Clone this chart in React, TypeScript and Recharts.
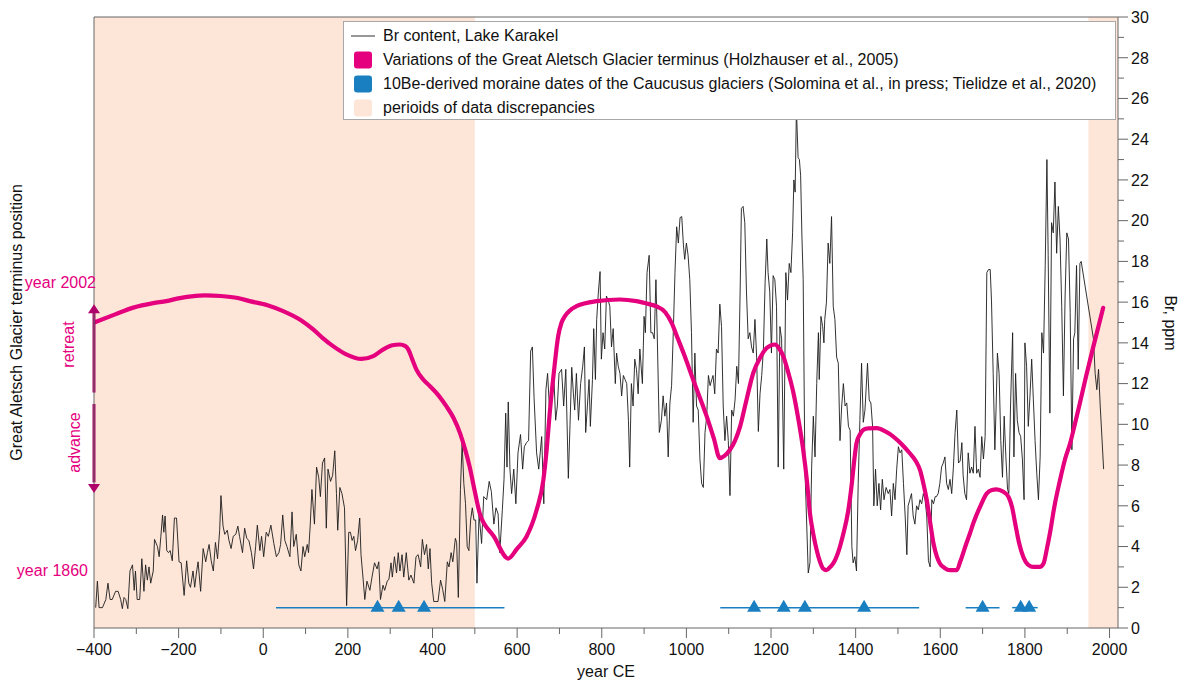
import React from 'react';
import {
  ComposedChart,
  Line,
  Scatter,
  XAxis,
  YAxis,
  ReferenceArea,
  ReferenceLine,
  ReferenceDot,
} from 'recharts';

const FONT = '"Liberation Sans", Arial, Helvetica, sans-serif';
const MAGENTA = '#e5007e';
const DARK_MAGENTA = '#b0006a';
const BLUE = '#1a7fc1';
const SHADE = '#fde5d8';
const AXIS = '#666666';

// Br content, Lake Karakel (ppm) by year CE
const brYears = [
  -396, -392, -388, -380, -372, -367, -362, -357, -349, -343,
  -337, -333, -329, -325, -320, -315, -309, -305, -302, -298,
  -292, -287, -282, -278, -274, -270, -266, -260, -257, -250,
  -246, -242, -238, -235, -232, -228, -224, -220, -215, -210,
  -205, -199, -194, -187, -181, -176, -172, -166, -162, -158,
  -154, -148, -142, -136, -132, -128, -123, -118, -113, -108,
  -103, -100, -95, -91, -85, -81, -76, -71, -65, -60,
  -56, -49, -44, -39, -34, -28, -23, -18, -14, -8,
  -4, 1, 7, 12, 18, 25, 31, 37, 41, 46,
  51, 56, 63, 68, 72, 78, 84, 89, 94, 98,
  104, 107, 111, 115, 121, 126, 131, 135, 140, 145,
  149, 153, 159, 164, 169, 173, 176, 181, 186, 192,
  197, 202, 206, 210, 214, 218, 223, 228, 231, 236,
  240, 245, 252, 257, 263, 269, 273, 277, 283, 287,
  293, 297, 302, 305, 310, 315, 319, 323, 328, 332,
  338, 344, 349, 356, 361, 366, 372, 376, 381, 386,
  390, 394, 398, 403, 408, 413, 419, 424, 429, 435,
  439, 444, 448, 454, 457, 461, 466, 470, 474, 478,
  482, 486, 490, 494, 498, 502, 505, 510, 516, 521,
  528, 534, 539, 545, 550, 555, 559, 565, 569, 573,
  576, 579, 583, 587, 592, 597, 602, 608, 613, 617,
  622, 627, 632, 636, 640, 646, 651, 658, 663, 668,
  672, 677, 681, 687, 691, 695, 699, 705, 710, 715,
  721, 725, 729, 733, 736, 740, 745, 750, 755, 759,
  762, 766, 770, 773, 778, 781, 785, 788, 792, 796,
  799, 803, 807, 811, 815, 819, 823, 827, 832, 835,
  839, 843, 847, 851, 855, 859, 863, 866, 870, 874,
  878, 882, 886, 890, 896, 900, 903, 907, 912, 916,
  920, 924, 928, 931, 936, 941, 945, 949, 953, 957,
  961, 965, 969, 973, 977, 981, 985, 989, 993, 996,
  1000, 1004, 1008, 1012, 1016, 1020, 1024, 1028, 1032, 1036,
  1040, 1044, 1048, 1052, 1056, 1060, 1063, 1067, 1071, 1075,
  1079, 1083, 1087, 1091, 1095, 1099, 1103, 1107, 1111, 1115,
  1119, 1123, 1127, 1130, 1134, 1138, 1142, 1146, 1150, 1154,
  1158, 1162, 1166, 1170, 1174, 1178, 1182, 1186, 1190, 1193,
  1197, 1201, 1205, 1209, 1213, 1217, 1221, 1225, 1230, 1235,
  1239, 1243, 1247, 1251, 1254, 1257, 1260, 1264, 1267, 1270,
  1273, 1276, 1280, 1284, 1288, 1292, 1296, 1300, 1304, 1308,
  1312, 1314, 1318, 1322, 1325, 1327, 1331, 1335, 1339, 1343,
  1347, 1351, 1355, 1359, 1363, 1367, 1371, 1375, 1379, 1383,
  1387, 1391, 1394, 1398, 1402, 1406, 1410, 1414, 1418, 1422,
  1428, 1432, 1436, 1440, 1443, 1447, 1451, 1455, 1459, 1463,
  1467, 1472, 1477, 1481, 1485, 1489, 1493, 1497, 1501, 1505,
  1509, 1513, 1517, 1521, 1524, 1528, 1532, 1536, 1540, 1544,
  1548, 1552, 1556, 1560, 1564, 1568, 1572, 1576, 1580, 1584,
  1588, 1591, 1595, 1599, 1603, 1607, 1611, 1615, 1619, 1623,
  1627, 1631, 1635, 1639, 1643, 1647, 1651, 1654, 1658, 1662,
  1666, 1670, 1674, 1678, 1682, 1686, 1690, 1694, 1698, 1702,
  1706, 1710, 1714, 1718, 1721, 1725, 1729, 1732, 1735, 1739,
  1743, 1747, 1751, 1755, 1759, 1762, 1766, 1771, 1774, 1778,
  1782, 1786, 1790, 1794, 1798, 1800, 1804, 1808, 1812, 1816,
  1820, 1824, 1828, 1832, 1836, 1840, 1844, 1848, 1852, 1855,
  1859, 1863, 1867, 1871, 1875, 1879, 1883, 1887, 1891, 1895,
  1899, 1903, 1907, 1911, 1915, 1918, 1922, 1926, 1930, 1933,
  1962, 1966, 1970, 1974, 1978, 1986,
];
const brValues = [
  1.0, 2.3, 1.0, 1.0, 1.4, 2.2, 1.4, 1.4, 1.8, 1.8,
  1.4, 0.95, 1.5, 1.4, 0.95, 2.8, 3.1, 1.85, 2.8, 1.4,
  1.4, 3.4, 1.8, 3.1, 2.35, 3.0, 2.2, 2.8, 4.35, 4.0,
  3.5, 4.5, 5.55, 4.7, 5.5, 3.8, 3.7, 3.8, 3.3, 5.4,
  5.4, 3.25, 3.2, 1.6, 3.3, 2.2, 2.0, 2.8, 2.0, 2.7,
  3.25, 1.8, 3.9, 3.25, 3.7, 4.1, 3.3, 2.8, 4.2, 3.4,
  4.8, 6.5, 5.0, 4.6, 4.8, 4.3, 3.9, 4.5, 4.6, 5.0,
  4.5, 3.7, 4.9, 4.4, 4.3, 3.7, 2.9, 4.0, 5.05, 3.8,
  4.5, 3.5, 4.7, 4.5, 5.05, 4.15, 3.5, 3.7, 4.1, 5.55,
  4.3, 4.0, 3.5, 5.7, 4.0, 4.6, 3.1, 2.8, 4.0, 3.5,
  4.1, 3.7, 5.05, 6.8, 5.1, 7.9, 7.4, 6.45, 8.1, 8.35,
  4.9, 7.8, 7.2, 7.5, 8.7, 6.6, 4.8, 6.9, 6.6, 5.9,
  1.1, 4.7, 4.7, 4.3, 4.5, 3.8, 4.3, 5.4, 3.6, 2.4,
  1.4, 2.3, 1.85, 2.5, 3.2, 2.9, 3.25, 1.4, 2.1, 1.85,
  2.3, 2.4, 3.2, 2.5, 3.5, 2.7, 3.7, 2.8, 3.6, 2.5,
  3.7, 2.35, 2.6, 2.2, 3.5, 3.6, 3.0, 4.35, 3.6, 4.1,
  2.9, 3.9, 2.2, 1.3, 1.3, 1.3, 2.35, 1.9, 1.3, 3.25,
  3.0, 3.7, 3.25, 4.4, 4.2, 1.5, 6.8, 9.1, 7.1, 6.1,
  4.0, 3.8, 5.3, 5.9, 5.3, 5.3, 2.2, 5.6, 4.15, 6.45,
  6.3, 7.2, 6.7, 5.1, 5.9, 5.6, 3.7, 5.8, 7.3, 10.55,
  7.9, 11.1, 7.8, 6.6, 7.8, 6.1, 8.6, 9.5, 7.8, 8.9,
  9.1, 9.2, 13.6, 13.8, 11.3, 8.6, 7.8, 9.4, 6.1, 11.7,
  12.5, 10.55, 11.4, 12.2, 10.2, 10.9, 12.5, 12.7, 10.9, 12.7,
  7.35, 10.0, 12.8, 11.5, 10.7, 12.5, 10.2, 12.0, 12.85, 13.8,
  9.6, 10.9, 12.2, 9.9, 12.2, 14.7, 12.2, 15.15, 16.5, 17.5,
  13.2, 14.5, 13.7, 16.3, 16.1, 15.8, 13.8, 14.7, 12.0, 13.5,
  12.85, 12.5, 11.4, 12.4, 12.2, 12.0, 10.2, 7.9, 12.0, 10.9,
  13.2, 12.7, 11.5, 13.7, 12.0, 15.3, 14.5, 17.45, 18.3, 14.5,
  14.5, 14.2, 17.1, 14.5, 9.6, 10.2, 11.4, 10.4, 11.05, 8.4,
  11.05, 11.9, 14.5, 17.45, 19.7, 18.9, 20.15, 20.2, 18.8, 18.1,
  18.9, 18.3, 17.1, 14.5, 10.1, 13.5, 10.9, 10.7, 8.3, 7.1,
  6.9, 9.6, 10.4, 12.4, 11.9, 12.2, 12.4, 11.5, 13.7, 13.5,
  15.9, 14.8, 10.9, 9.2, 10.4, 9.2, 6.5, 10.7, 10.4, 11.2,
  12.85, 12.0, 16.5, 20.6, 20.7, 19.9, 16.5, 14.2, 14.5, 13.8,
  13.5, 15.15, 13.3, 9.65, 11.5, 12.4, 13.7, 16.95, 19.1, 17.45,
  16.5, 13.5, 17.3, 17.1, 15.8, 7.9, 14.8, 14.2, 7.8, 17.45,
  16.1, 17.9, 17.45, 19.4, 22.0, 21.4, 25.5, 23.1, 23.0, 22.2,
  19.25, 17.1, 7.9, 5.3, 2.7, 3.2, 7.9, 10.4, 8.4, 12.0,
  14.5, 12.2, 15.3, 14.8, 14.0, 15.15, 16.0, 18.9, 17.9, 20.2,
  15.8, 15.15, 13.3, 13.0, 9.2, 10.9, 12.0, 10.9, 11.05, 9.9,
  9.7, 4.0, 3.2, 3.5, 2.8, 7.1, 10.2, 13.0, 10.1, 10.7,
  13.0, 11.2, 11.05, 9.9, 6.0, 7.8, 6.0, 7.1, 5.8, 7.3,
  6.3, 6.9, 6.6, 6.8, 5.5, 7.1, 6.3, 7.8, 8.9, 8.6,
  8.75, 7.1, 5.5, 3.6, 6.0, 6.3, 6.6, 5.5, 5.1, 6.0,
  5.8, 6.3, 6.1, 6.6, 6.3, 5.5, 3.3, 3.0, 6.3, 6.1,
  6.45, 6.45, 6.6, 7.1, 7.9, 8.1, 8.4, 7.1, 6.8, 7.3,
  6.6, 7.9, 9.6, 10.7, 8.1, 8.2, 9.1, 7.5, 6.6, 6.3,
  8.6, 7.6, 7.9, 7.6, 9.9, 7.6, 7.8, 7.4, 9.4, 8.3,
  9.4, 17.45, 17.6, 17.6, 16.1, 12.5, 8.75, 10.9, 13.5, 12.5,
  9.2, 7.4, 10.4, 8.4, 6.8, 6.6, 10.9, 14.5, 8.4, 12.5,
  10.2, 9.6, 9.4, 8.3, 6.3, 14.0, 12.85, 9.9, 11.4, 13.2,
  11.2, 9.2, 7.6, 6.3, 8.4, 14.5, 13.5, 17.8, 23.0, 18.3,
  10.55, 19.9, 19.4, 21.9, 18.4, 20.7, 19.1, 15.8, 11.4, 16.3,
  19.4, 19.1, 15.5, 8.75, 14.2, 14.5, 17.8, 12.7, 17.9, 18.0,
  14.2, 12.5, 11.7, 12.7, 10.9, 7.8,
];

// Great Aletsch Glacier terminus position (relative scale, 1860 low stand ≈ 2.8, 2002 ≈ 16.95)
const glacierYears = [
  -400, -350, -307, -260, -229, -197, -170, -138, -100, -60,
  -32, 10, 47, 90, 118, 140, 165, 195, 232, 260,
  283, 305, 323, 335, 343, 352, 362, 378, 394, 415,
  433, 450, 465, 478, 488, 500, 512, 545, 579, 600,
  622, 646, 662, 670, 677, 687, 697, 705, 713, 740,
  788, 843, 882, 914, 929, 950, 965, 980, 993, 1016,
  1048, 1065, 1079, 1090, 1103, 1115, 1127, 1142, 1158, 1175,
  1190, 1209, 1220, 1229, 1240, 1253, 1265, 1276, 1285, 1292,
  1300, 1308, 1315, 1323, 1331, 1340, 1347, 1360, 1371, 1382,
  1391, 1396, 1402, 1410, 1418, 1430, 1450, 1470, 1489, 1510,
  1528, 1542, 1552, 1560, 1568, 1576, 1584, 1592, 1599, 1610,
  1623, 1639, 1647, 1660, 1670, 1678, 1695, 1710, 1722, 1733,
  1748, 1761, 1770, 1777, 1786, 1796, 1808, 1820, 1835, 1844,
  1852, 1859, 1870, 1883, 1895, 1907, 1918, 1930, 1945, 1962,
  1975, 1985,
];
const glacierPositions = [
  15.0, 15.4, 15.73, 15.95, 16.05, 16.2, 16.28, 16.33, 16.3, 16.2,
  16.05, 15.85, 15.56, 15.1, 14.66, 14.25, 13.84, 13.45, 13.21, 13.35,
  13.67, 13.88, 13.92, 13.85, 13.67, 13.2, 12.69, 12.2, 11.87, 11.4,
  10.88, 10.3, 9.57, 8.7, 7.9, 6.7, 5.6, 4.5, 3.41, 3.9,
  4.48, 5.79, 7.27, 8.8, 10.55, 12.6, 14.33, 15.0, 15.31, 15.8,
  16.05, 16.13, 16.05, 15.89, 15.8, 15.5, 14.98, 14.2, 13.51, 12.19,
  10.39, 9.3, 8.34, 8.45, 8.75, 9.2, 9.9, 11.2, 12.52, 13.3,
  13.75, 13.92, 13.7, 13.34, 12.6, 11.54, 10.2, 8.75, 7.2, 5.63,
  4.6, 3.82, 3.3, 2.92, 2.84, 3.0, 3.17, 3.8, 4.64, 5.7,
  7.11, 8.1, 9.08, 9.5, 9.73, 9.8, 9.81, 9.65, 9.4, 9.0,
  8.58, 8.2, 7.76, 7.1, 6.29, 5.2, 4.15, 3.5, 3.17, 2.95,
  2.84, 2.84, 3.25, 4.05, 4.64, 5.14, 6.0, 6.61, 6.78, 6.81,
  6.7, 6.45, 5.9, 5.14, 4.2, 3.5, 3.1, 3.0, 3.0, 3.17,
  3.9, 4.64, 6.0, 7.27, 8.3, 9.08, 10.0, 11.05, 12.4, 13.84,
  14.9, 15.72,
];

// 10Be moraine ages and their uncertainty spans (year CE)
const moraineDates = [270, 320, 380, 1160, 1230, 1280, 1420, 1700, 1790, 1810];
const moraineSpans = [
  [30, 570],
  [1080, 1550],
  [1660, 1740],
  [1770, 1830],
];
const moraineLevel = 1;

// periods where the records disagree
const discrepancyPeriods = [
  [-400, 500],
  [1950, 2020],
];

const yearDomain = [-400, 2020];
const yearTicks = [
  -400, -300, -200, -100, 0, 100, 200, 300, 400, 500, 600, 700, 800, 900,
  1000, 1100, 1200, 1300, 1400, 1500, 1600, 1700, 1800, 1900, 2000,
];
const brDomain = [0, 30];
const brTicks = Array.from({ length: 31 }, (_, i) => i);

// terminus reference stands shown on the left side
const terminusStands = [2.8, 16.95];
const terminusStandLabels = ['year 1860', 'year 2002'];

// retreat / advance arrows on the terminus scale
const retreatArrow = { from: 11.56, to: 15.5, tip: 15.89 };
const advanceArrow = { from: 11.0, to: 7.15, tip: 6.63 };

const legendLabels = [
  'Br content, Lake Karakel',
  'Variations of the Great Aletsch Glacier terminus (Holzhauser et al., 2005)',
  '10Be-derived moraine dates of the Caucusus glaciers (Solomina et al., in press; Tielidze et al., 2020)',
  'perioids of data discrepancies',
];

const brData = brYears.map((year, i) => ({ year, br: brValues[i] }));
const glacierData = glacierYears.map((year, i) => ({ year, pos: glacierPositions[i] }));
const moraineData = moraineDates.map((year) => ({ year, level: moraineLevel }));

const fmtYear = (v: number) => (v < 0 ? `\u2212${-v}` : `${v}`);

const YearTick = (props: any) => {
  const { x, y, payload } = props;
  const v = payload.value as number;
  const major = v % 200 === 0;
  return (
    <g>
      <line x1={x} x2={x} y1={y} y2={y + (major ? 10 : 6)} stroke={AXIS} strokeWidth={1} />
      {major && (
        <text x={x} y={y + 27} textAnchor="middle" fontSize={16} fontFamily={FONT} fill="#111">
          {fmtYear(v)}
        </text>
      )}
    </g>
  );
};

const BrTick = (props: any) => {
  const { x, y, payload } = props;
  const v = payload.value as number;
  const major = v % 2 === 0;
  return (
    <g>
      <line x1={x} x2={x + (major ? 10 : 6)} y1={y} y2={y} stroke={AXIS} strokeWidth={1} />
      {major && (
        <text x={x + 13} y={y + 5.8} textAnchor="start" fontSize={16} fontFamily={FONT} fill="#111">
          {v}
        </text>
      )}
    </g>
  );
};

const StandTick = (props: any) => {
  const { x, y, payload } = props;
  const idx = terminusStands.indexOf(payload.value);
  const dx = idx === 1 ? 2 : -6;
  return (
    <text x={x + dx} y={y + 5.5} textAnchor="end" fontSize={16} fontFamily={FONT} fill={MAGENTA}>
      {terminusStandLabels[idx]}
    </text>
  );
};

const LeftCaption = (props: any) => {
  const vb = props.viewBox || { x: 0, y: 17, width: 94, height: 611 };
  const cy = vb.y + vb.height / 2;
  const tx = vb.x + 21.5;
  const rx = vb.x + 74;
  const ax = vb.x + 79.5;
  return (
    <g fontFamily={FONT} fontSize={16}>
      <text x={tx} y={cy} transform={`rotate(-90, ${tx}, ${cy})`} textAnchor="middle" fill="#111">
        Great Aletsch Glacier terminus position
      </text>
      <text x={rx} y={cy + 22} transform={`rotate(-90, ${rx}, ${cy + 22})`} textAnchor="middle" fill={MAGENTA}>
        retreat
      </text>
      <text x={ax} y={cy + 120} transform={`rotate(-90, ${ax}, ${cy + 120})`} textAnchor="middle" fill={MAGENTA}>
        advance
      </text>
    </g>
  );
};

const RightCaption = (props: any) => {
  const vb = props.viewBox || { x: 1118, y: 17, width: 61, height: 611 };
  const cy = vb.y + vb.height / 2 + 0.5;
  const tx = vb.x + 47;
  return (
    <text
      x={tx}
      y={cy}
      transform={`rotate(90, ${tx}, ${cy})`}
      textAnchor="middle"
      fontFamily={FONT}
      fontSize={16}
      fill="#111"
    >
      Br, ppm
    </text>
  );
};

const BottomCaption = (props: any) => {
  const vb = props.viewBox || { x: 94, y: 628, width: 1024, height: 54 };
  return (
    <text
      x={vb.x + vb.width / 2}
      y={vb.y + 49}
      textAnchor="middle"
      fontFamily={FONT}
      fontSize={16}
      fill="#111"
    >
      year CE
    </text>
  );
};

const MoraineMarker = (props: any) => {
  const { cx, cy } = props;
  if (cx == null || cy == null) return null;
  return <polygon points={`${cx},${cy - 8} ${cx - 7},${cy + 4} ${cx + 7},${cy + 4}`} fill={BLUE} />;
};

const ArrowUp = (props: any) => {
  const { cx, cy } = props;
  return <polygon points={`${cx},${cy} ${cx - 6},${cy + 9} ${cx + 6},${cy + 9}`} fill={DARK_MAGENTA} />;
};

const ArrowDown = (props: any) => {
  const { cx, cy } = props;
  return <polygon points={`${cx},${cy} ${cx - 6},${cy - 9} ${cx + 6},${cy - 9}`} fill={DARK_MAGENTA} />;
};

const LegendBox = () => {
  const swatches = [
    <svg width={26} height={20} key="a">
      <line x1={1} x2={25} y1={10} y2={10} stroke="#333" strokeWidth={1} />
    </svg>,
    <svg width={26} height={20} key="b">
      <rect x={4} y={1.5} width={18} height={17} rx={3} fill={MAGENTA} />
    </svg>,
    <svg width={26} height={20} key="c">
      <rect x={4} y={1.5} width={18} height={17} rx={3} fill={BLUE} />
    </svg>,
    <svg width={26} height={20} key="d">
      <rect x={4} y={1.5} width={18} height={17} rx={3} fill={SHADE} />
    </svg>,
  ];
  return (
    <div
      style={{
        position: 'absolute',
        left: 343,
        top: 21,
        width: 773,
        height: 99,
        background: '#fff',
        border: '1px solid #a8a8a8',
        boxSizing: 'border-box',
        fontFamily: FONT,
        fontSize: 16,
        color: '#111',
        paddingTop: 2,
      }}
    >
      {legendLabels.map((label, i) => (
        <div key={label} style={{ display: 'flex', alignItems: 'center', height: 24, paddingLeft: 6 }}>
          {swatches[i]}
          <span style={{ marginLeft: 7, whiteSpace: 'nowrap', lineHeight: '24px' }}>{label}</span>
        </div>
      ))}
    </div>
  );
};

export default function App() {
  return (
    <div
      style={{
        position: 'absolute',
        left: 0,
        top: 0,
        width: 1179,
        height: 682,
        background: '#fff',
        fontFamily: FONT,
        overflow: 'hidden',
      }}
    >
      <ComposedChart width={1179} height={682} margin={{ top: 17, right: 0, bottom: 0, left: 0 }}>
        {discrepancyPeriods.map(([a, b]) => (
          <ReferenceArea
            key={`shade-${a}`}
            x1={a}
            x2={b}
            yAxisId="br"
            y1={0}
            y2={30}
            fill={SHADE}
            fillOpacity={1}
            stroke="none"
            ifOverflow="visible"
          />
        ))}
        <XAxis
          type="number"
          dataKey="year"
          domain={yearDomain}
          ticks={yearTicks}
          interval={0}
          allowDataOverflow
          height={54}
          tickSize={0}
          tickMargin={0}
          tickLine={false}
          tick={<YearTick />}
          axisLine={{ stroke: AXIS, strokeWidth: 1 }}
          label={{ content: <BottomCaption /> }}
        />
        <YAxis
          yAxisId="terminus"
          orientation="left"
          type="number"
          domain={brDomain}
          ticks={terminusStands}
          interval={0}
          width={94}
          tickSize={0}
          tickMargin={0}
          tickLine={false}
          tick={<StandTick />}
          axisLine={{ stroke: AXIS, strokeWidth: 1 }}
          allowDataOverflow
          label={{ content: <LeftCaption /> }}
        />
        <YAxis
          yAxisId="br"
          orientation="right"
          type="number"
          domain={brDomain}
          ticks={brTicks}
          interval={0}
          width={61}
          tickSize={0}
          tickMargin={0}
          tickLine={false}
          tick={<BrTick />}
          axisLine={{ stroke: AXIS, strokeWidth: 1 }}
          allowDataOverflow
          label={{ content: <RightCaption /> }}
        />
        <ReferenceLine yAxisId="br" y={30} stroke={AXIS} strokeWidth={1.2} />

        {moraineSpans.map(([a, b]) => (
          <ReferenceLine
            key={`span-${a}`}
            yAxisId="br"
            segment={[
              { x: a, y: moraineLevel },
              { x: b, y: moraineLevel },
            ]}
            stroke={BLUE}
            strokeWidth={1.5}
          />
        ))}

        <Line
          data={brData}
          yAxisId="br"
          dataKey="br"
          type="linear"
          stroke="#1c1c1c"
          strokeWidth={0.9}
          dot={false}
          activeDot={false}
          isAnimationActive={false}
        />
        <Line
          data={glacierData}
          yAxisId="terminus"
          dataKey="pos"
          type="monotone"
          stroke={MAGENTA}
          strokeWidth={4.2}
          strokeLinejoin="round"
          strokeLinecap="round"
          dot={false}
          activeDot={false}
          isAnimationActive={false}
        />
        <Scatter
          data={moraineData}
          yAxisId="br"
          dataKey="level"
          shape={<MoraineMarker />}
          isAnimationActive={false}
        />

        <ReferenceLine
          yAxisId="terminus"
          segment={[
            { x: yearDomain[0], y: retreatArrow.from },
            { x: yearDomain[0], y: retreatArrow.to },
          ]}
          stroke={DARK_MAGENTA}
          strokeWidth={3}
        />
        <ReferenceLine
          yAxisId="terminus"
          segment={[
            { x: yearDomain[0], y: advanceArrow.from },
            { x: yearDomain[0], y: advanceArrow.to },
          ]}
          stroke={DARK_MAGENTA}
          strokeWidth={3}
        />
        <ReferenceDot yAxisId="terminus" x={yearDomain[0]} y={retreatArrow.tip} shape={<ArrowUp />} ifOverflow="visible" />
        <ReferenceDot yAxisId="terminus" x={yearDomain[0]} y={advanceArrow.tip} shape={<ArrowDown />} ifOverflow="visible" />
      </ComposedChart>
      <LegendBox />
    </div>
  );
}
